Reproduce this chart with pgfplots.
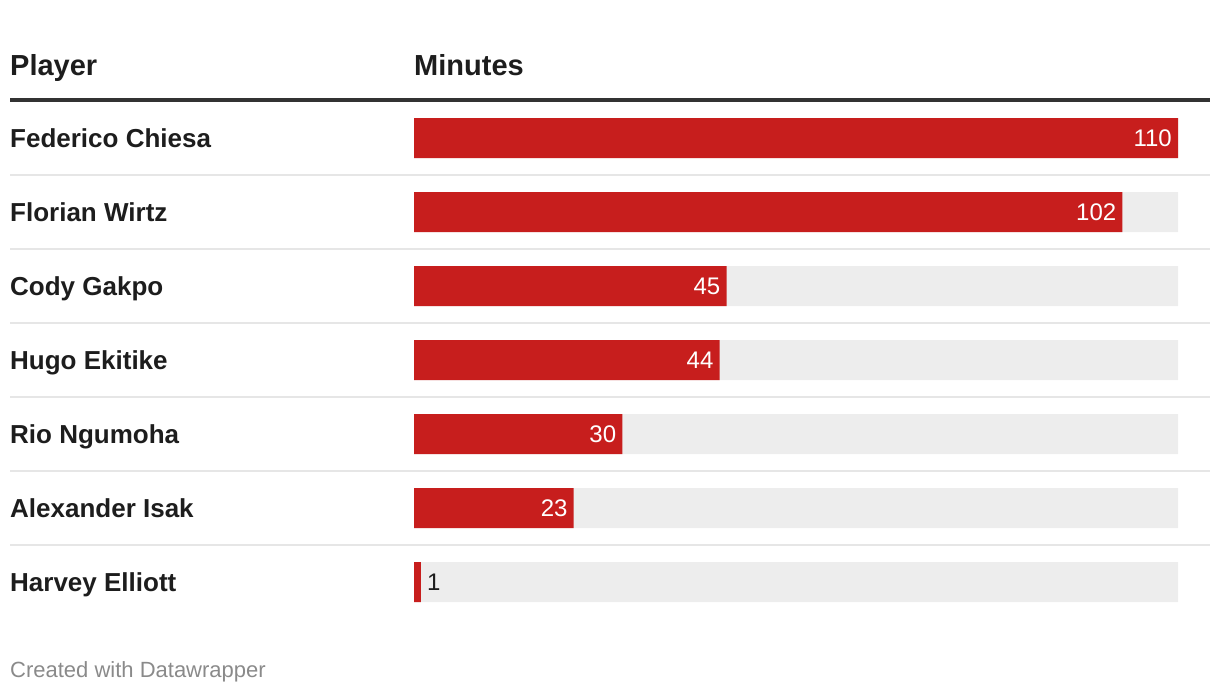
\documentclass[border=0pt]{standalone}
\usepackage{pgfplots}
\pgfplotsset{compat=1.18}
\usepackage{fontspec}
\setmainfont{Liberation Sans}
\definecolor{barred}{HTML}{C71E1D}
\definecolor{bgbar}{HTML}{EDEDED}
\definecolor{sepline}{HTML}{E6E6E6}
\definecolor{txt}{HTML}{1D1D1D}
\definecolor{foot}{HTML}{8A8A8A}
\definecolor{rule}{HTML}{333333}
\begin{document}
\begin{tikzpicture}[x=1pt,y=1pt]
\path[use as bounding box] (0,0) rectangle (1220,-694);
% header
\node[anchor=base west, inner sep=0, text=txt, font=\fontsize{29}{33}\selectfont\bfseries] at (10,-75) {Player};
\node[anchor=base west, inner sep=0, text=txt, font=\fontsize{29}{33}\selectfont\bfseries] at (414,-75) {Minutes};
\fill[rule] (10,-98) rectangle (1210,-102);
% separators
\foreach \yy in {175,249,323,397,471,545} {
  \fill[sepline] (10,-\yy+1) rectangle (1210,-\yy-1);
}
\begin{axis}[
  at={(414pt,-619pt)}, anchor=south west,
  scale only axis, width=764pt, height=518pt,
  xmin=0, xmax=110, ymin=-0.5, ymax=6.5,
  y dir=reverse, clip=false,
  axis line style={draw=none}, tick style={draw=none},
  xtick=\empty,
  ytick={0,1,2,3,4,5,6},
  yticklabels={Federico Chiesa,Florian Wirtz,Cody Gakpo,Hugo Ekitike,Rio Ngumoha,Alexander Isak,Harvey Elliott},
  yticklabel style={anchor=base west, inner sep=0pt, xshift=-404pt, yshift=-9.3pt,
    text=txt, font=\fontsize{26}{30}\selectfont\bfseries},
  /pgf/number format/assume math mode=true,
]
\addplot[xbar, bar width=40pt, bar shift=0pt, fill=bgbar, draw=none] coordinates {
 (110,0) (110,1) (110,2) (110,3) (110,4) (110,5) (110,6)};
\addplot[xbar, bar width=40pt, bar shift=0pt, fill=barred, draw=none,
  point meta=x, nodes near coords,
  every node near coord/.style={inner xsep=6pt, inner ysep=0pt, yshift=-8.3pt,
     font=\fontsize{24}{28}\selectfont},
  coordinate style/.condition={x<5}{anchor=base west, text=txt},
  coordinate style/.condition={x>=5}{anchor=base east, text=white},
] coordinates {
 (110,0) (102,1) (45,2) (44,3) (30,4) (23,5) (1,6)};
\end{axis}
\node[anchor=base west, inner sep=0, text=foot, font=\fontsize{22}{26}\selectfont] at (10,-677) {Created with Datawrapper};
\end{tikzpicture}
\end{document}
